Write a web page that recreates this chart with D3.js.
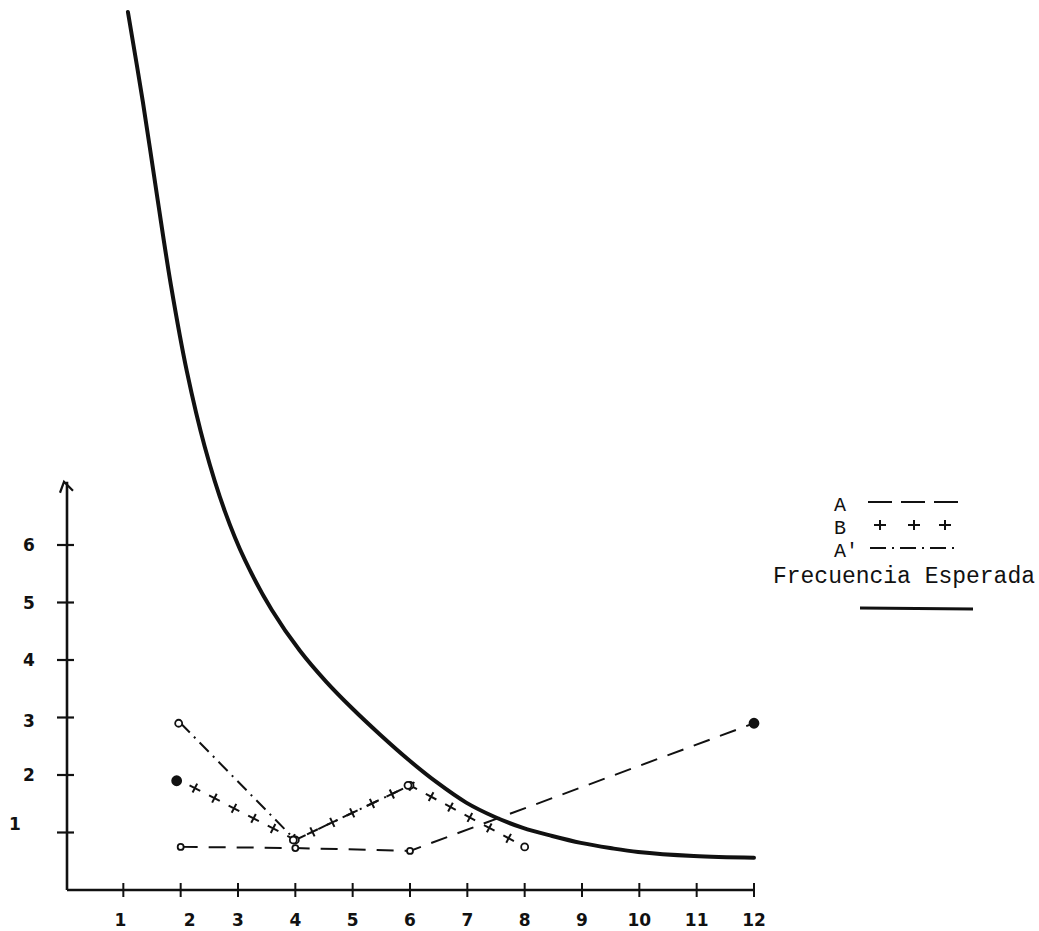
<!DOCTYPE html>
<html lang="es">
<head>
    <meta charset="UTF-8">
    <title>Frecuencia Esperada</title>
    <script src="https://d3js.org/d3.v7.min.js"></script>
    <style>
        body { margin: 0; background: #fff; }
        svg { display: block; }
        .tick-label { font-family: "DejaVu Sans", sans-serif; font-weight: bold; font-size: 17px; fill: #111; }
        .legend-text { font-family: "Liberation Mono", "Courier New", monospace; fill: #111; }
    </style>
</head>
<body>
    <div id="chart"></div>
    <script>
        // observed series
        const seriesA_x = [2, 4, 6, 12];
        const seriesA_y = [0.75, 0.73, 0.68, 2.9];

        const seriesB_x = [2, 4, 6, 8];
        const seriesB_y = [1.9, 0.87, 1.82, 0.75];

        const seriesA2_x = [2, 4, 6];
        const seriesA2_y = [2.9, 0.87, 1.82];

        // expected frequency curve
        const expX = [1.08, 1.34, 1.59, 1.83, 2.11, 2.42, 2.77, 3.12, 3.59, 4.08, 4.54, 4.99, 5.48, 5.98, 6.47, 6.98, 7.48, 7.97, 8.48, 8.98, 9.49, 9.98, 10.95, 12.0];
        const expY = [15.27, 13.71, 12.06, 10.52, 9.01, 7.71, 6.59, 5.74, 4.87, 4.16, 3.62, 3.16, 2.7, 2.26, 1.87, 1.52, 1.27, 1.08, 0.94, 0.82, 0.73, 0.66, 0.59, 0.56];

        const xTicks = [1, 2, 3, 4, 5, 6, 7, 8, 9, 10, 11, 12];
        const yTicks = [1, 2, 3, 4, 5, 6];

        const width = 1039;
        const height = 931;

        const svg = d3.select("#chart").append("svg")
            .attr("width", width)
            .attr("height", height);

        const x = d3.scaleLinear().domain([0, 12]).range([66, 754]);
        const y = d3.scaleLinear().domain([0, 15.5]).range([890, 890 - 15.5 * 57.5]);

        const ink = "#111";

        // axes
        svg.append("line")
            .attr("x1", x(0) + 1).attr("x2", x(12))
            .attr("y1", y(0)).attr("y2", y(0))
            .attr("stroke", ink).attr("stroke-width", 2.6);

        svg.append("line")
            .attr("x1", x(0) + 1).attr("x2", x(0) + 1)
            .attr("y1", y(0)).attr("y2", y(7.1))
            .attr("stroke", ink).attr("stroke-width", 2.6);

        // arrow head on y axis
        svg.append("path")
            .attr("d", `M${x(0) - 6},${y(7.1) + 11} L${x(0) - 2},${y(7.1)} L${x(0) + 7},${y(7.1) + 9}`)
            .attr("fill", "none").attr("stroke", ink).attr("stroke-width", 2.2);

        // x ticks cross the axis
        svg.append("g").selectAll("line")
            .data(xTicks)
            .join("line")
            .attr("x1", d => x(d)).attr("x2", d => x(d))
            .attr("y1", y(0) - 7).attr("y2", y(0) + 7)
            .attr("stroke", ink).attr("stroke-width", 2);

        svg.append("g").selectAll("text")
            .data(xTicks)
            .join("text")
            .attr("class", "tick-label")
            .attr("x", d => x(d) + (d === 2 ? 9 : d === 1 ? -3 : 0))
            .attr("y", 926)
            .attr("text-anchor", "middle")
            .text(d => d);

        svg.append("g").selectAll("line")
            .data(yTicks)
            .join("line")
            .attr("x1", x(0) - 9).attr("x2", x(0) + 8)
            .attr("y1", d => y(d)).attr("y2", d => y(d))
            .attr("stroke", ink).attr("stroke-width", 2.2);

        svg.append("g").selectAll("text")
            .data(yTicks)
            .join("text")
            .attr("class", "tick-label")
            .attr("x", d => d === 1 ? 15 : 29)
            .attr("y", d => y(d) + 6 + (d === 1 ? -9 : d === 3 ? 3 : 0))
            .attr("text-anchor", "middle")
            .text(d => d);

        const line = d3.line().x(d => x(d[0])).y(d => y(d[1]));

        const dataA = seriesA_x.map((v, i) => [v, seriesA_y[i]]);
        const dataB = seriesB_x.map((v, i) => [v, seriesB_y[i]]);
        const dataA2 = seriesA2_x.map((v, i) => [v, seriesA2_y[i]]);
        const dataExp = expX.map((v, i) => [v, expY[i]]);

        // expected frequency
        svg.append("path")
            .datum(dataExp)
            .attr("d", line.curve(d3.curveCatmullRom.alpha(0.5)))
            .attr("fill", "none")
            .attr("stroke", ink)
            .attr("stroke-width", 4)
            .attr("stroke-linecap", "round");

        line.curve(d3.curveLinear);

        // A : dashed
        svg.append("path")
            .datum(dataA)
            .attr("d", line)
            .attr("fill", "none")
            .attr("stroke", ink)
            .attr("stroke-width", 2)
            .attr("stroke-dasharray", "17,11");

        // A' : dash dot
        svg.append("path")
            .datum(dataA2)
            .attr("d", line)
            .attr("fill", "none")
            .attr("stroke", ink)
            .attr("stroke-width", 2)
            .attr("stroke-dasharray", "13,6,2,6");

        // B : plus signs along the line
        const bPath = svg.append("path")
            .datum(dataB)
            .attr("d", line)
            .attr("fill", "none")
            .attr("stroke", "none");

        const node = bPath.node();
        const total = node.getTotalLength();
        const plusPts = [];
        for (let s = 16; s < total - 4; s += 22) {
            const p = node.getPointAtLength(s);
            const q = node.getPointAtLength(Math.min(s + 1, total));
            plusPts.push({ x: p.x, y: p.y, a: Math.atan2(q.y - p.y, q.x - p.x) * 180 / Math.PI });
        }
        svg.append("g").selectAll("path")
            .data(plusPts)
            .join("path")
            .attr("transform", d => `translate(${d.x},${d.y}) rotate(${d.a})`)
            .attr("d", "M-6,0 L6,0 M0,-5 L0,5")
            .attr("stroke", ink)
            .attr("stroke-width", 2);

        // point markers
        svg.append("g").selectAll("circle")
            .data(dataA)
            .join("circle")
            .attr("cx", d => x(d[0])).attr("cy", d => y(d[1]))
            .attr("r", d => d[0] === 12 ? 4.5 : 3)
            .attr("fill", d => d[0] === 12 ? ink : "#fff")
            .attr("stroke", ink).attr("stroke-width", 1.8);

        svg.append("g").selectAll("circle")
            .data(dataB)
            .join("circle")
            .attr("cx", d => x(d[0]) - (d[0] === 2 ? 4 : 0)).attr("cy", d => y(d[1]))
            .attr("r", d => d[0] === 2 ? 4.5 : 3.5)
            .attr("fill", d => d[0] === 2 ? ink : "#fff")
            .attr("stroke", ink).attr("stroke-width", 1.8);

        svg.append("g").selectAll("circle")
            .data(dataA2)
            .join("circle")
            .attr("cx", d => x(d[0]) - 2).attr("cy", d => y(d[1]))
            .attr("r", 3.5)
            .attr("fill", "#fff")
            .attr("stroke", ink).attr("stroke-width", 1.8);

        // legend
        const legend = svg.append("g");
        const labels = [["A", 834, 511, 20], ["B", 834, 534, 20], ["A'", 834, 557, 20]];
        legend.selectAll(".lt")
            .data(labels)
            .join("text")
            .attr("class", "legend-text lt")
            .attr("x", d => d[1])
            .attr("y", d => d[2])
            .style("font-size", d => d[3] + "px")
            .text(d => d[0]);

        legend.append("text")
            .attr("class", "legend-text")
            .attr("x", 773)
            .attr("y", 583)
            .attr("textLength", 262)
            .attr("lengthAdjust", "spacing")
            .style("font-size", "23px")
            .text("Frecuencia Esperada");

        legend.append("line")
            .attr("x1", 868).attr("x2", 958).attr("y1", 502).attr("y2", 502)
            .attr("stroke", ink).attr("stroke-width", 2).attr("stroke-dasharray", "24,9");
        legend.selectAll(".lp")
            .data([880, 914, 945])
            .join("path")
            .attr("class", "lp")
            .attr("transform", d => `translate(${d},525)`)
            .attr("d", "M-6,0 L6,0 M0,-5 L0,5")
            .attr("stroke", ink).attr("stroke-width", 2);
        legend.append("line")
            .attr("x1", 870).attr("x2", 959).attr("y1", 548).attr("y2", 548)
            .attr("stroke", ink).attr("stroke-width", 2).attr("stroke-dasharray", "16,6,2,6");
        legend.append("line")
            .attr("x1", 860).attr("x2", 973).attr("y1", 608).attr("y2", 609)
            .attr("stroke", ink).attr("stroke-width", 3);
    </script>
</body>
</html>
